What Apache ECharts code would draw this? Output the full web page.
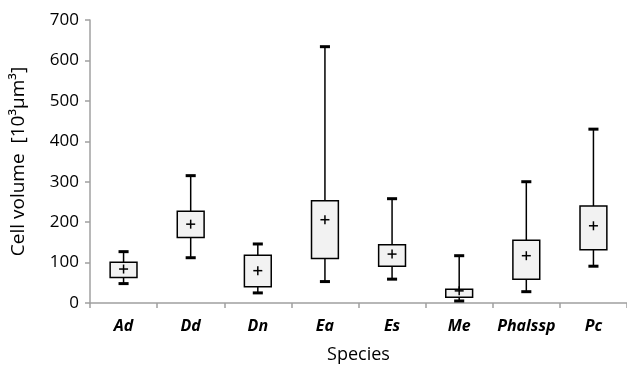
<!DOCTYPE html>
<html>
<head>
<meta charset="utf-8">
<script src="https://cdn.jsdelivr.net/npm/echarts@6/dist/echarts.min.js"></script>
<style>
  html, body { margin: 0; padding: 0; background: #fff; }
  #chart { width: 627px; height: 366px; }
</style>
</head>
<body>
<div id="chart"></div>
<script>
const species = ["Ad", "Dd", "Dn", "Ea", "Es", "Me", "Phalssp", "Pc"];
const whiskerLow = [48, 112, 25, 53, 59, 5, 28, 91];
const boxLow = [63, 162, 40, 110, 91, 14, 59, 132];
const boxHigh = [101, 227, 118, 253, 144, 34, 155, 240];
const whiskerHigh = [127, 315, 146, 634, 258, 117, 300, 430];
const means = [84, 195, 80, 206, 121, 30, 117, 191];
const yTicks = [0, 100, 200, 300, 400, 500, 600, 700];

const chart = echarts.init(document.getElementById("chart"));

function renderBox(params, api) {
  const i = api.value(0);
  const x = api.coord([i, 0])[0];
  const band = api.size([1, 0])[0];
  const boxW = band * 0.4;
  const capW = band * 0.15;
  const yLo = api.coord([i, api.value(1)])[1];
  const yQ1 = api.coord([i, api.value(2)])[1];
  const yQ3 = api.coord([i, api.value(3)])[1];
  const yHi = api.coord([i, api.value(4)])[1];
  const yMean = api.coord([i, api.value(5)])[1];
  const stroke = {stroke: "#000", lineWidth: 1.5};
  const cap = {stroke: "#000", lineWidth: 3};
  return {
    type: "group",
    children: [
      {type: "line", shape: {x1: x, y1: yHi, x2: x, y2: yLo}, style: stroke},
      {type: "rect", shape: {x: x - boxW / 2, y: yQ3, width: boxW, height: yQ1 - yQ3},
        style: {fill: "#f2f2f2", stroke: "#000", lineWidth: 1.5}},
      {type: "line", shape: {x1: x - capW / 2, y1: yHi, x2: x + capW / 2, y2: yHi}, style: cap},
      {type: "line", shape: {x1: x - capW / 2, y1: yLo, x2: x + capW / 2, y2: yLo}, style: cap},
      {type: "line", shape: {x1: x - 4.5, y1: yMean, x2: x + 4.5, y2: yMean}, style: stroke},
      {type: "line", shape: {x1: x, y1: yMean - 4.5, x2: x, y2: yMean + 4.5}, style: stroke}
    ]
  };
}

chart.setOption({
  animation: false,
  textStyle: {fontFamily: "Open Sans"},
  grid: {left: 90, right: 0, top: 20, bottom: 63, outerBoundsMode: "none"},
  xAxis: {
    type: "category",
    data: species,
    name: "Species",
    nameLocation: "middle",
    nameGap: 43,
    nameTextStyle: {fontSize: 18, color: "#000"},
    axisLine: {lineStyle: {color: "#a0a0a0", width: 1.5}},
    axisTick: {show: true, length: 5, lineStyle: {color: "#a0a0a0", width: 1.5}},
    axisLabel: {interval: 0, fontSize: 16, fontWeight: "bold", fontStyle: "italic", color: "#000", margin: 15}
  },
  yAxis: {
    type: "value",
    min: yTicks[0],
    max: yTicks[yTicks.length - 1],
    interval: 100,
    name: "Cell volume  [10³µm³]",
    nameLocation: "middle",
    nameGap: 62,
    nameTextStyle: {fontSize: 19, color: "#000"},
    axisLine: {show: true, lineStyle: {color: "#a0a0a0", width: 1.5}},
    axisTick: {show: true, length: 5, lineStyle: {color: "#a0a0a0", width: 1.5}},
    axisLabel: {fontSize: 17, color: "#000", margin: 11},
    splitLine: {show: false}
  },
  series: [{
    type: "custom",
    renderItem: renderBox,
    encode: {x: 0, y: [1, 2, 3, 4, 5]},
    data: species.map((s, i) => [i, whiskerLow[i], boxLow[i], boxHigh[i], whiskerHigh[i], means[i]])
  }]
});
</script>
</body>
</html>
